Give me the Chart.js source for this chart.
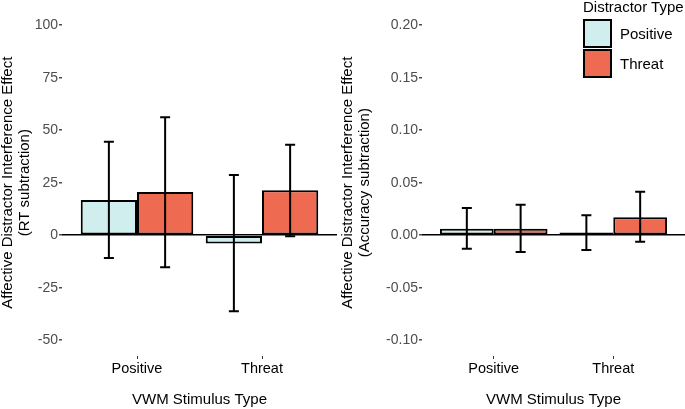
<!DOCTYPE html>
<html>
<head>
<meta charset="utf-8">
<script src="https://cdn.jsdelivr.net/npm/chart.js@4.4.1/dist/chart.umd.min.js"></script>
<style>
  body { margin: 0; background: #fff; font-family: 'Liberation Sans', Arial, sans-serif; }
  #wrap { position: relative; width: 685px; height: 409px; }
  .panel { position: absolute; top: 0; height: 409px; }
  #legend { position: absolute; left: 583px; top: 0; font-size: 15px; color: #000; }
  #legend .title { height: 19px; line-height: 14px; }
  #legend .item { display: flex; align-items: center; height: 28px; margin-bottom: 2px; }
  #legend .swatch { width: 25px; height: 25px; border: 2px solid #000; margin-right: 8px; }
</style>
</head>
<body>
<div id="wrap">
  <div class="panel" style="left:0;width:340px"><canvas id="rt"></canvas></div>
  <div class="panel" style="left:340px;width:345px"><canvas id="acc"></canvas></div>
  <div id="legend"></div>
</div>
<script>
// categories on the x axis (VWM stimulus type)
const categories = ['Positive', 'Threat'];
// distractor types (series)
const seriesNames = ['Positive', 'Threat'];
const seriesColors = ['#D1EEEE', '#EE6A50'];

// RT subtraction panel
const rtMeans = [[16.8, -3.9], [20.6, 21.4]];
const rtLow   = [[-10.9, -36.2], [-15.2, -0.5]];
const rtHigh  = [[44.5, 28.7], [56.2, 43.1]];
const rtTicks = [-50, -25, 0, 25, 50, 75, 100];

// accuracy subtraction panel
const accMeans = [[0.0062, 0.0025], [0.0062, 0.017]];
const accLow   = [[-0.013, -0.014], [-0.016, -0.0063]];
const accHigh  = [[0.026, 0.019], [0.029, 0.0415]];
const accTicks = [-0.10, -0.05, 0.00, 0.05, 0.10, 0.15, 0.20];

const FONT = "'Liberation Sans', Arial, sans-serif";

const errorBars = {
  id: 'errorBars',
  afterDatasetsDraw(chart, args, opts) {
    const ctx = chart.ctx;
    const y = chart.scales.y;
    ctx.save();
    ctx.strokeStyle = '#000';
    ctx.lineWidth = 2;
    chart.data.datasets.forEach((ds, di) => {
      const meta = chart.getDatasetMeta(di);
      meta.data.forEach((bar, i) => {
        const lo = y.getPixelForValue(ds.errLow[i]);
        const hi = y.getPixelForValue(ds.errHigh[i]);
        const x = bar.x;
        ctx.beginPath();
        ctx.moveTo(x, lo); ctx.lineTo(x, hi);
        ctx.moveTo(x - 5, lo); ctx.lineTo(x + 5, lo);
        ctx.moveTo(x - 5, hi); ctx.lineTo(x + 5, hi);
        ctx.stroke();
      });
    });
    ctx.restore();
  }
};

function makePanel(id, means, low, high, ticks, yMin, yMax, yTitle, yWidth, fmt) {
  const datasets = seriesNames.map((name, s) => ({
    label: name,
    data: categories.map((c, i) => ({ x: i + 1, y: means[s][i] })),
    errLow: low[s],
    errHigh: high[s],
    backgroundColor: seriesColors[s],
    borderColor: '#000',
    borderWidth: 2,
    borderSkipped: false,
    categoryPercentage: 0.9,
    barPercentage: 1.0
  }));

  new Chart(document.getElementById(id), {
    type: 'bar',
    data: { datasets: datasets },
    options: {
      responsive: true,
      maintainAspectRatio: false,
      animation: false,
      layout: { padding: { top: 4, right: id === 'rt' ? 3 : 0, left: 0, bottom: 0 } },
      plugins: { legend: { display: false }, tooltip: { enabled: false } },
      scales: {
        x: {
          type: 'linear',
          min: 0.4,
          max: 2.6,
          offset: false,
          afterBuildTicks: (scale) => { scale.ticks = categories.map((c, i) => ({ value: i + 1 })); },
          afterFit: (scale) => { scale.height = 53; },
          ticks: {
            callback: (v) => categories[v - 1],
            color: '#000',
            font: { family: FONT, size: 14.5 },
            padding: 1
          },
          grid: { offset: false, drawOnChartArea: false, tickLength: 3, tickColor: '#333', lineWidth: 1 },
          border: { display: false },
          title: {
            display: true,
            text: 'VWM Stimulus Type',
            color: '#000',
            font: { family: FONT, size: 15 },
            padding: { top: 15, bottom: 0 }
          }
        },
        y: {
          min: yMin,
          max: yMax,
          afterBuildTicks: (scale) => { scale.ticks = ticks.map(v => ({ value: v })); },
          afterFit: (scale) => { scale.width = yWidth; },
          ticks: {
            callback: fmt,
            color: '#4D4D4D',
            font: { family: FONT, size: 14 },
            padding: 1
          },
          grid: {
            drawOnChartArea: true,
            color: (c) => (c.tick && c.tick.value === 0 ? '#000' : 'rgba(0,0,0,0)'),
            lineWidth: 1.5,
            tickLength: 3,
            tickColor: '#4D4D4D'
          },
          border: { display: false },
          title: {
            display: true,
            text: yTitle,
            color: '#000',
            font: { family: FONT, size: 15, lineHeight: 1.1 },
            padding: { top: 0, bottom: 5 }
          }
        }
      }
    },
    plugins: [errorBars]
  });
}

makePanel('rt', rtMeans, rtLow, rtHigh, rtTicks, -57.5, 107.5,
  ['Affective Distractor Interference Effect', '(RT subtraction)'], 62, (v) => String(v));
makePanel('acc', accMeans, accLow, accHigh, accTicks, -0.115, 0.215,
  ['Affective Distractor Interference Effect', '(Accuracy subtraction)'], 82, (v) => v.toFixed(2));

// legend
const legend = document.getElementById('legend');
let html = '<div class="title">Distractor Type</div>';
seriesNames.forEach((n, i) => {
  html += '<div class="item"><div class="swatch" style="background:' + seriesColors[i] + '"></div>' + n + '</div>';
});
legend.innerHTML = html;
</script>
</body>
</html>
